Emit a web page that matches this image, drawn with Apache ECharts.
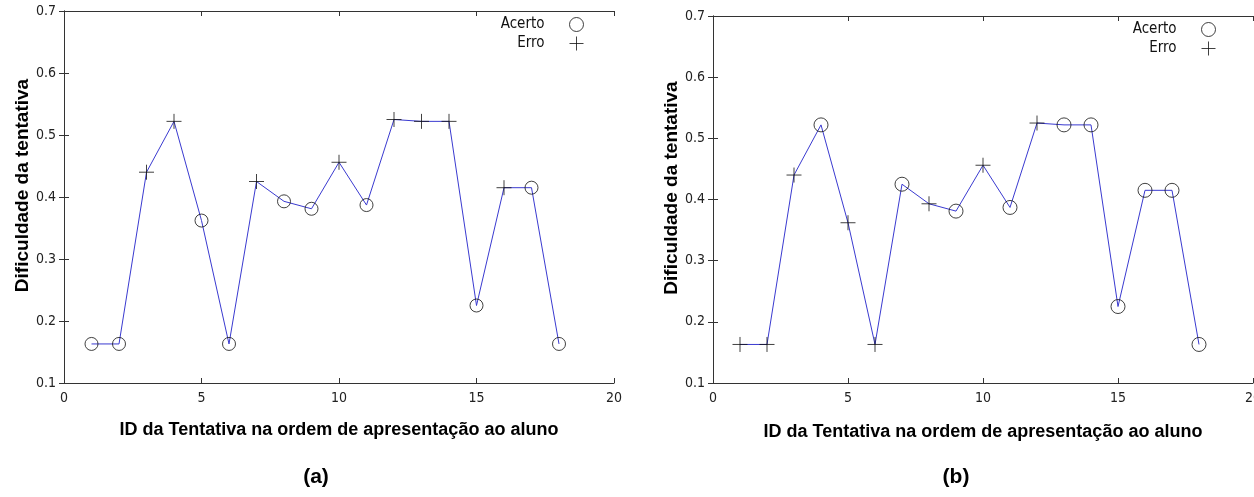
<!DOCTYPE html>
<html>
<head>
<meta charset="utf-8">
<script src="https://cdn.jsdelivr.net/npm/echarts@6/dist/echarts.min.js"></script>
<style>
  html, body { margin: 0; padding: 0; background: #fff; }
  #chart { width: 1254px; height: 497px; }
</style>
</head>
<body>
<div id="chart"></div>
<script>
// ID da tentativa e dificuldade (igual nos dois gráficos)
var ids = [1, 2, 3, 4, 5, 6, 7, 8, 9, 10, 11, 12, 13, 14, 15, 16, 17, 18];
var dificuldade = [0.163, 0.163, 0.440, 0.522, 0.362, 0.163, 0.425, 0.393, 0.381,
                   0.456, 0.387, 0.525, 0.522, 0.522, 0.225, 0.415, 0.415, 0.163];
// A = Acerto, E = Erro
var resultadoA = ['A','A','E','E','A','A','E','A','A','E','A','E','E','E','A','E','A','A'];
var resultadoB = ['E','E','E','A','E','E','A','E','A','E','A','E','A','A','A','A','A','A'];
var xTicks = [0, 5, 10, 15, 20];
var yTicks = [0.1, 0.2, 0.3, 0.4, 0.5, 0.6, 0.7];
var painelLabels = ['(a)', '(b)'];

var PLUS = 'path://M0,7.5L15,7.5M7.5,0L7.5,15';
var narrow = '"Liberation Sans Narrow", "DejaVu Sans Condensed", sans-serif';
var bold = '"Liberation Sans", Arial, sans-serif';

function pontos(res, tipo) {
    var d = [];
    for (var i = 0; i < ids.length; i++) {
        if (res[i] === tipo) d.push([ids[i], dificuldade[i]]);
    }
    return d;
}

function linha() {
    return ids.map(function (id, i) { return [id, dificuldade[i]]; });
}

var grids = [
    { left: 64, top: 11, width: 550, bottom: 114, outerBoundsMode: 'none' },
    { left: 713, top: 16, width: 540, bottom: 114, outerBoundsMode: 'none' }
];

var xAxes = [], yAxes = [], series = [], legends = [], titles = [];
var legendPos = [{ right: 665, top: 12 }, { right: 33, top: 17 }];
var nameGapX = [38, 40];
var nameGapY = [32, 31];
var titleX = [316, 956];
var symSize = [13, 14];

grids.forEach(function (g, k) {
    var axisLine = { show: true, lineStyle: { color: '#333', width: 1 } };
    var tick = { show: true, inside: true, length: 5, lineStyle: { color: '#333' } };
    xAxes.push({
        type: 'value', gridIndex: k, min: xTicks[0], max: xTicks[xTicks.length - 1], interval: 5,
        axisLine: axisLine, axisTick: tick, splitLine: { show: false },
        axisLabel: { margin: 8, color: '#222', fontSize: 14, fontFamily: narrow },
        name: 'ID da Tentativa na ordem de apresentação ao aluno',
        nameLocation: 'middle', nameGap: nameGapX[k],
        nameTextStyle: { fontSize: 18, fontWeight: 'bold', color: '#000', fontFamily: bold }
    });
    xAxes.push({
        type: 'value', gridIndex: k, position: 'top', min: 0, max: 20, interval: 5,
        axisLine: axisLine, axisTick: tick, axisLabel: { show: false }, splitLine: { show: false }
    });
    yAxes.push({
        type: 'value', gridIndex: k, min: yTicks[0], max: yTicks[yTicks.length - 1], interval: 0.1,
        axisLine: axisLine, axisTick: tick, splitLine: { show: false },
        axisLabel: { margin: 8, color: '#222', fontSize: 14, fontFamily: narrow,
                     formatter: function (v) { return v.toFixed(1); } },
        name: 'Dificuldade da tentativa', nameLocation: 'middle', nameGap: nameGapY[k],
        nameTextStyle: { fontSize: 19, fontWeight: 'bold', color: '#000', fontFamily: bold,
                         padding: [0, 0, 0, 23] }
    });
    yAxes.push({
        type: 'value', gridIndex: k, position: 'right', min: 0.1, max: 0.7, interval: 0.1,
        axisLine: axisLine, axisTick: tick, axisLabel: { show: false }, splitLine: { show: false }
    });

    var res = k === 0 ? resultadoA : resultadoB;
    series.push({
        type: 'line', xAxisIndex: 2 * k, yAxisIndex: 2 * k, data: linha(),
        showSymbol: false, symbol: 'none', silent: true,
        lineStyle: { color: '#3a3ad0', width: 1 }, z: 2
    });
    series.push({
        name: 'Acerto', type: 'scatter', xAxisIndex: 2 * k, yAxisIndex: 2 * k,
        data: pontos(res, 'A'), symbol: 'circle', symbolSize: symSize[k], z: 3,
        itemStyle: { color: 'rgba(0,0,0,0)', borderColor: '#111', borderWidth: 1 }
    });
    series.push({
        name: 'Erro', type: 'scatter', xAxisIndex: 2 * k, yAxisIndex: 2 * k,
        data: pontos(res, 'E'), symbol: PLUS, symbolSize: 15, z: 3,
        itemStyle: { color: 'rgba(0,0,0,0)', borderColor: '#111', borderWidth: 1 }
    });

    legends.push({
        orient: 'vertical', align: 'right', right: legendPos[k].right, top: legendPos[k].top,
        itemGap: 4, itemWidth: 14, itemHeight: 14, selectedMode: false,
        textStyle: { fontSize: 15, color: '#111', fontFamily: narrow, padding: [0, 20, 0, 0] },
        data: [
            { name: 'Acerto', icon: 'circle',
              itemStyle: { color: 'rgba(0,0,0,0)', borderColor: '#111', borderWidth: 1 } },
            { name: 'Erro', icon: PLUS,
              itemStyle: { color: 'rgba(0,0,0,0)', borderColor: '#111', borderWidth: 1 } }
        ]
    });

    titles.push({
        text: painelLabels[k], left: titleX[k], top: 467, textAlign: 'center', padding: 0,
        textStyle: { fontSize: 21, fontWeight: 'bold', color: '#000', fontFamily: bold }
    });
});

var chart = echarts.init(document.getElementById('chart'));
chart.setOption({
    animation: false,
    backgroundColor: '#fff',
    title: titles,
    legend: legends,
    grid: grids,
    xAxis: xAxes,
    yAxis: yAxes,
    series: series
});
</script>
</body>
</html>
